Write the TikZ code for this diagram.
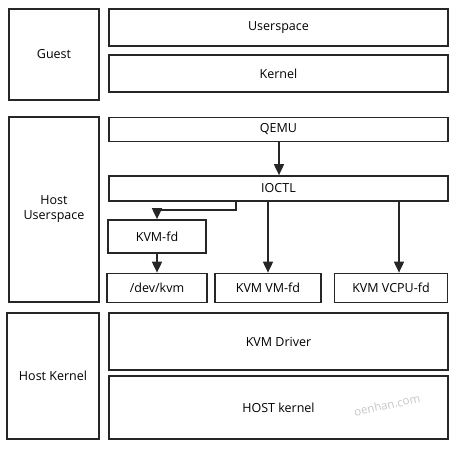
\documentclass[tikz,border=0pt]{standalone}
\usepackage{fontspec}
\setmainfont{Open Sans}
\usetikzlibrary{arrows.meta}
\begin{document}
\begin{tikzpicture}[x=1pt,y=-1pt,
  box/.style={draw=black!85,line width=1.7pt,inner sep=0pt,font=\fontsize{12.5}{15}\selectfont},
  arr/.style={draw=black!85,line width=1.7pt,-{Triangle[width=10pt,length=11pt]}}]
\useasboundingbox (0,0) rectangle (456,452);
\fill[white] (0,0) rectangle (456,452);
% boxes
\node[box,minimum width=90pt,minimum height=91pt] (guest) at (54,54.5) {Guest};
\node[box,minimum width=339pt,minimum height=37pt] (user) at (278.5,27.5) {Userspace};
\node[box,minimum width=339pt,minimum height=37pt] (kern) at (278.5,73.5) {Kernel};
\node[box,minimum width=90pt,minimum height=185pt,align=center] (hostu) at (54,209.5) {Host\\Userspace};
\node[box,minimum width=339pt,minimum height=24pt] (qemu) at (278.5,129.5) {QEMU};
\node[box,minimum width=339pt,minimum height=25pt] (ioctl) at (278.5,188.5) {IOCTL};
\node[box,minimum width=98pt,minimum height=33pt] (kvmfd) at (157,236.5) {KVM-fd};
\node[box,minimum width=100pt,minimum height=29pt] (dev) at (157,288) {/dev/kvm};
\node[box,minimum width=106pt,minimum height=29pt] (vmfd) at (268,288) {KVM VM-fd};
\node[box,minimum width=113pt,minimum height=29pt] (vcpu) at (391,288) {KVM VCPU-fd};
\node[box,minimum width=92pt,minimum height=126pt] (hostk) at (53,376) {Host Kernel};
\node[box,minimum width=339pt,minimum height=57pt] (drv) at (278.5,341.5) {KVM Driver};
\node[box,minimum width=339pt,minimum height=63pt] (hk) at (278.5,407.5) {HOST kernel};
% connectors
\draw[arr] (qemu.south -| 279,0) -- (ioctl.north -| 279,0);
\coordinate (bend) at (236,210);
\draw[arr] (ioctl.south -| bend) -- (bend) -- (bend -| kvmfd.north) -- (kvmfd.north);
\draw[arr] (kvmfd.south) -- (dev.north);
\draw[arr] (ioctl.south -| vmfd.north) -- (vmfd.north);
\draw[arr] (ioctl.south -| 399,0) -- (vcpu.north -| 399,0);
% watermark
\node[text=black!22,rotate=12,inner sep=0pt,font=\fontsize{11.5}{12}\selectfont] (wm) at (387,405) {oenhan.com};
\end{tikzpicture}
\end{document}
